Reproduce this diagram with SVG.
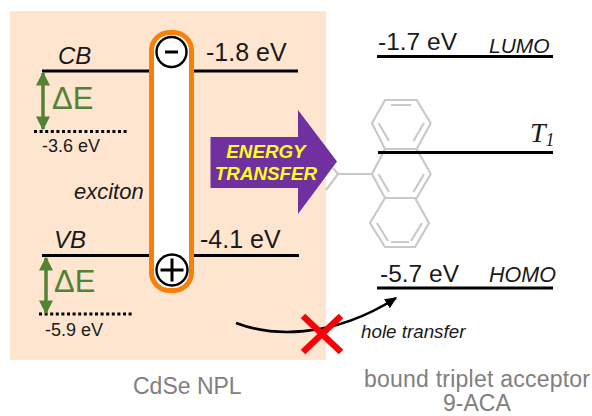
<svg xmlns="http://www.w3.org/2000/svg" width="592" height="416" viewBox="0 0 592 416">
<style>
text{font-family:"Liberation Sans",Arial,sans-serif;fill:#1a1a1a}
.lvl{stroke:#000;stroke-width:3;fill:none}
.dot{stroke:#000;stroke-width:3;stroke-dasharray:3 2.6;fill:none}
.it{font-style:italic}
.gray{fill:#808080;font-size:23px}
.de{fill:#548235;font-size:31px}
.mol{stroke:#c9c9c9;stroke-width:2.2;fill:none}
.tr{fill:#ffff1a;font-size:18.8px;font-weight:bold;font-style:italic;text-anchor:middle}
.charge{fill:#fff;stroke:#000;stroke-width:2.4}
.sign{stroke:#000;stroke-width:3;fill:none}
</style>
<defs>
<marker id="ga" viewBox="0 0 10 10" refX="9" refY="5" markerWidth="14" markerHeight="14" markerUnits="userSpaceOnUse" orient="auto-start-reverse"><path d="M0 0L10 5L0 10Z" fill="#548235"/></marker>
<marker id="ba" viewBox="0 0 10 10" refX="9" refY="5" markerWidth="12" markerHeight="12" markerUnits="userSpaceOnUse" orient="auto"><path d="M0 0.5L10 5L0 9.5Z" fill="#000"/></marker>
</defs>
<rect width="592" height="416" fill="#fff"/>
<rect id="panel" x="10" y="11" width="316" height="349" fill="#fde5d0"/>
<g id="molecule" class="mol">
<path d="M385 100H416.7L430.7 123.3L416.7 149H385L372 123.3Z"/>
<path d="M391 105H411M378.500 123L389 141M424 123L413.500 141"/>
<path d="M385 149H416.7L430.7 174L416.7 198H385L372 174Z"/>
<path d="M378.500 174L389 192M424 174L413.500 192"/>
<path d="M385 198H415L429 223L415 247H385L370 223Z"/>
<path d="M377 223L388 241M422 223L411 241M391 242H409"/>
<path d="M372 174H338L326 190M338 174L333 168"/>
</g>
<g id="exciton-pill"><rect x="151.500" y="32.500" width="40" height="258" rx="18" fill="#fff" stroke="#f98008" stroke-width="5"/></g>
<g id="connectors">
<path class="lvl" d="M42 71H149M194 71H298M42 255.500H149M194 255.500H299"/>
<path class="dot" d="M34 131.500H128M39 314H133"/>
<path class="lvl" d="M377 56.500H553M378 152.500H553M377 288H553"/>
<path d="M43 73V129" stroke="#548235" stroke-width="3.500" fill="none" marker-start="url(#ga)" marker-end="url(#ga)"/>
<path d="M46 258V313" stroke="#548235" stroke-width="3.500" fill="none" marker-start="url(#ga)" marker-end="url(#ga)"/>
<path d="M236 323C270 336 330 340 396 298" stroke="#000" stroke-width="2.600" fill="none" marker-end="url(#ba)"/>
</g>
<g id="minus"><circle class="charge" cx="171.500" cy="52" r="15"/><path class="sign" d="M165 52H178"/></g>
<g id="plus"><circle class="charge" cx="172" cy="270" r="15.500"/><path class="sign" d="M160.500 270H183.500M172 258.500V281.500"/></g>
<g id="energy-transfer">
<path d="M210.500 137H298V110L337 161.500L298 214V188H210.500Z" fill="#7030a0"/>
<text class="tr" x="266" y="158">ENERGY</text>
<text class="tr" x="266" y="180">TRANSFER</text>
</g>
<g id="cross"><path d="M303 316L341 352M341 316L303 352" stroke="#fb0007" stroke-width="6.500" fill="none"/></g>
<g id="labels">
<text class="it" x="58" y="64" font-size="24">CB</text>
<text class="it" x="54" y="248" font-size="24">VB</text>
<text x="206" y="61" font-size="25">-1.8 eV</text>
<text x="200" y="248" font-size="25">-4.1 eV</text>
<text x="42" y="152" font-size="18">-3.6 eV</text>
<text x="45" y="336" font-size="18">-5.9 eV</text>
<text class="it" x="74" y="199" font-size="22">exciton</text>
<text class="de" x="52" y="109">ΔE</text>
<text class="de" x="54" y="292">ΔE</text>
<text x="378" y="50" font-size="24.500">-1.7 eV</text>
<text class="it" x="489" y="53" font-size="21">LUMO</text>
<text x="530" y="142" font-style="italic" style="font-family:'Liberation Serif',serif" font-size="28">T<tspan font-size="18" dy="4">1</tspan></text>
<text x="380" y="282" font-size="24.500">-5.7 eV</text>
<text class="it" x="489" y="282" font-size="21.500">HOMO</text>
<text class="it" x="361" y="338" font-size="18.800">hole transfer</text>
<text class="gray" x="133" y="394">CdSe NPL</text>
<text class="gray" x="364" y="387" textLength="226">bound triplet acceptor</text>
<text class="gray" x="443" y="411">9-ACA</text>
</g>
</svg>
